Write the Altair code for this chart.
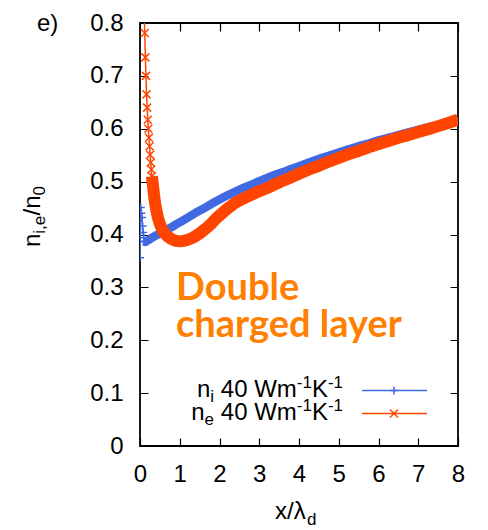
import altair as alt
import pandas as pd

# ---------------- data ----------------
x_i = [0.0, 0.02, 0.035, 0.05, 0.065, 0.08, 0.095, 0.11, 0.13, 0.16, 0.2, 0.25, 0.3,
       0.4, 0.5, 0.6, 0.7, 0.8, 0.9, 1.0, 1.2, 1.4, 1.6, 1.8, 2.0, 2.2, 2.4, 2.6, 2.8,
       3.0, 3.2, 3.4, 3.6, 3.8, 4.0, 4.25, 4.5, 4.75, 5.0, 5.25, 5.5, 5.75, 6.0, 6.25,
       6.5, 6.75, 7.0, 7.25, 7.5, 7.75, 8.0]
n_i = [0.356, 0.451, 0.44, 0.432, 0.416, 0.404, 0.394, 0.387, 0.386, 0.387, 0.389, 0.391, 0.394,
       0.398, 0.402, 0.406, 0.41, 0.414, 0.419, 0.423, 0.432, 0.441, 0.449, 0.458, 0.466, 0.474,
       0.481, 0.488, 0.494, 0.501, 0.507, 0.513, 0.518, 0.524, 0.529, 0.536, 0.543, 0.549, 0.555,
       0.561, 0.567, 0.572, 0.578, 0.583, 0.588, 0.593, 0.598, 0.603, 0.607, 0.611, 0.615]

x_e = [0.10, 0.12, 0.135, 0.15, 0.165, 0.18, 0.195, 0.21, 0.225, 0.24, 0.255, 0.27, 0.285,
       0.30, 0.33, 0.36, 0.40, 0.45, 0.5, 0.55, 0.6, 0.7, 0.8, 0.9, 1.0, 1.1, 1.2, 1.3, 1.4,
       1.5, 1.6, 1.7, 1.8, 1.9, 2.0, 2.2, 2.4, 2.6, 2.8, 3.0, 3.2, 3.4, 3.6, 3.8, 4.0, 4.25,
       4.5, 4.75, 5.0, 5.25, 5.5, 5.75, 6.0, 6.25, 6.5, 6.75, 7.0, 7.25, 7.5, 7.75, 8.0]
n_e = [0.83, 0.781, 0.735, 0.70, 0.665, 0.64, 0.617, 0.60, 0.583, 0.567, 0.551, 0.536, 0.523,
       0.51, 0.49, 0.47, 0.45, 0.432, 0.42, 0.411, 0.404, 0.396, 0.391, 0.388, 0.387, 0.388,
       0.39, 0.393, 0.397, 0.402, 0.408, 0.414, 0.421, 0.429, 0.436, 0.449, 0.46, 0.468, 0.475,
       0.482, 0.488, 0.495, 0.502, 0.508, 0.515, 0.523, 0.53, 0.538, 0.545, 0.552, 0.558, 0.565,
       0.571, 0.577, 0.583, 0.588, 0.594, 0.599, 0.605, 0.611, 0.617]

x_ticks = [0, 1, 2, 3, 4, 5, 6, 7, 8]
y_ticks = [0, 0.1, 0.2, 0.3, 0.4, 0.5, 0.6, 0.7, 0.8]

# ---------------- style ----------------
W, H = 318, 423
BLUE = "#4169e1"
ORANGE = "#ff4500"
ANNOT = "#ff8000"
FONT = "Liberation Sans"
PLUS = "M-1,0L1,0M0,-1L0,1"
CROSS = "M-1,-1L1,1M-1,1L1,-1"

df_i = pd.DataFrame({"x": x_i, "n": n_i})
df_e = pd.DataFrame({"x": x_e, "n": n_e})

X = alt.X("x:Q",
          scale=alt.Scale(domain=[0, 8], nice=False, zero=False),
          axis=alt.Axis(values=x_ticks, title=None, labelFont=FONT, labelFontSize=24,
                        labelColor="black", ticks=False, tickSize=0, domain=False,
                        grid=True, gridColor="black", gridWidth=1.2, gridOpacity=1,
                        gridDash=[8, H - 16, 8, 2000], labelPadding=16, labelFlush=False))
Y = alt.Y("n:Q",
          scale=alt.Scale(domain=[0, 0.8], nice=False, zero=False),
          axis=alt.Axis(values=y_ticks, title=None, labelFont=FONT, labelFontSize=24,
                        labelColor="black", ticks=False, tickSize=0, domain=False,
                        labelExpr="datum.value == 0 ? '0' : format(datum.value, '.1f')",
                        grid=True, gridColor="black", gridWidth=1.2, gridOpacity=1,
                        gridDash=[8, W - 16, 8, 2000], labelPadding=17, labelFlush=False))


def series(df, color, shape, band_w, start):
    thin = alt.Chart(df).mark_line(color=color, strokeWidth=1.5, clip=True).encode(x=X, y=Y)
    band = alt.Chart(df).transform_filter(alt.datum.x >= start).mark_line(
        color=color, strokeWidth=band_w, strokeJoin="round", strokeCap="butt", clip=True
    ).encode(x=X, y=Y)
    pts = alt.Chart(df).mark_point(shape=shape, filled=False, size=64, strokeWidth=1.5,
                                   color=color, opacity=1, clip=True).encode(x=X, y=Y)
    return [thin, band, pts]


def txt(s, x, y, size=24, align="left", angle=0, color="black", font=FONT, weight="normal"):
    return alt.Chart(pd.DataFrame({"t": [s]})).mark_text(
        text=s, align=align, baseline="alphabetic", angle=angle, fontSize=size,
        font=font, fontWeight=weight, color=color
    ).encode(x=alt.value(x), y=alt.value(y))


def legend_row(sub, y, x0, color, shape):
    # n_sub 40 Wm^-1 K^-1
    layers = []
    xs = x0
    layers.append(txt("n", xs, y)); xs += 13.3
    layers.append(txt(sub, xs, y + 5, size=17)); xs += (3.8 if sub == "i" else 9.5)
    xs += 6.7  # space
    layers.append(txt("40 Wm", xs, y)); xs += 76.0
    layers.append(txt("-1", xs, y - 9, size=17)); xs += 15.1
    layers.append(txt("K", xs, y)); xs += 16.0
    layers.append(txt("-1", xs, y - 9, size=17))
    ly = y - 6.5
    layers.append(alt.Chart(pd.DataFrame({"a": [0]})).mark_rule(color=color, strokeWidth=1.5)
                  .encode(x=alt.value(222), x2=alt.value(287), y=alt.value(ly)))
    layers.append(alt.Chart(pd.DataFrame({"a": [0]})).mark_point(
        shape=shape, filled=False, size=64, strokeWidth=1.5, color=color, opacity=1)
        .encode(x=alt.value(254), y=alt.value(ly)))
    return layers


layers = []
layers += series(df_i, BLUE, PLUS, 8.5, 0.1)
layers += series(df_e, ORANGE, CROSS, 12, 0.3)

# panel label
layers.append(txt("e)", -103, 8))
# y title n_{i,e}/n_0 (rotated)
layers.append(txt("n", -100, 224, angle=270))
layers.append(txt("i,e", -95, 210.7, size=17, angle=270))
layers.append(txt("/n", -100, 192.5, angle=270))
layers.append(txt("0", -95, 172.5, size=17, angle=270))
# x title x/lambda_d
layers.append(txt("x/λ", 135, 496))
layers.append(txt("d", 167, 502, size=17))
# legend
layers += legend_row("i", 374, 57, BLUE, PLUS)
layers += legend_row("e", 397, 51.3, ORANGE, CROSS)
# annotation
layers.append(txt("Double", 36, 277, size=38, color=ANNOT, font="Lato", weight="bold"))
layers.append(txt("charged layer", 36, 314, size=38, color=ANNOT, font="Lato", weight="bold"))

chart = alt.layer(*layers).properties(
    width=W, height=H,
    autosize=alt.AutoSizeParams(type="none"),
    padding={"left": 140, "top": 23, "right": 30, "bottom": 84},
    background="white",
).configure_view(stroke="black", strokeWidth=1.8)

chart.save("out.html", embed_options={"renderer": "svg", "actions": False})
